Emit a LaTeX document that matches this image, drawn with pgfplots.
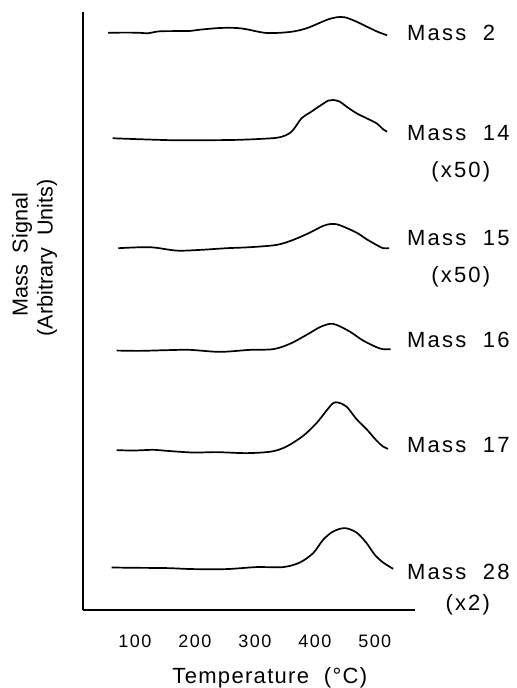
\documentclass[border=0pt]{standalone}
\usepackage{pgfplots}
\pgfplotsset{compat=1.18}
\usepackage{fontspec}
\setmainfont{Liberation Sans}
\newfontfamily\plotfont[LetterSpace=10]{Liberation Sans}
\newfontfamily\tickfont[LetterSpace=8]{Liberation Sans}
\newfontfamily\labfont[LetterSpace=6]{Liberation Sans}
\tikzset{trace/.style={black, solid, line width=0.85pt, smooth, tension=0.5, mark=none}}
\begin{document}
\begin{tikzpicture}
\begin{axis}[
  scale only axis,
  width=166pt, height=299pt,
  xmin=13.3, xmax=566.7, ymin=0, ymax=598,
  axis x line=bottom, axis y line=left,
  axis line style={-, line width=0.9pt},
  xtick={100,200,300,400,500},
  ytick=\empty,
  major tick length=0pt,
  /pgf/number format/assume math mode=true,
  xticklabel style={font=\tickfont\fontsize{9}{10}\selectfont, yshift=-9pt},
  clip=false,
]
\addplot[trace] coordinates {(55.5,577.3)(102.8,577.3)(122.2,576.7)(141.7,578.7)(191.7,579)(208.3,580.3)(241.7,582)(269.5,582)(286.2,580.7)(319.5,577)(358.3,578)(386.2,581.7)(419.5,590)(436.2,592.7)(450,592.7)(469.5,588.3)(502.8,578.7)(520.5,574.7)};
\addplot[trace] coordinates {(62.8,471.7)(108.3,470.7)(163.8,469.7)(208.3,469.7)(263.8,470)(308.3,471)(341.7,472.7)(361.2,478.3)(377.8,491.7)(391.7,497.3)(408.3,504)(422.2,509.3)(430.5,510)(441.7,508.3)(452.8,503.3)(469.5,496.7)(486.2,491.7)(502.8,486.7)(513.8,480.7)(520.5,478.3)};
\addplot[trace] coordinates {(72.2,361.7)(125,362.7)(169.5,359.3)(208.3,360)(252.8,361.7)(291.7,362.7)(336.2,365)(363.8,370)(391.7,377.3)(413.8,384)(427.8,386)(441.7,384.7)(469.5,377.3)(486.2,370.7)(502.8,365)(513.8,361.7)(523.8,361.7)};
\addplot[trace] coordinates {(69.5,259.3)(108.3,259)(152.8,259.7)(191.7,260)(241.7,258)(291.7,260)(330.5,260.7)(358.3,266)(386.2,275)(408.3,282.7)(425,286)(436.2,285)(458.3,278.3)(480.5,269.3)(502.8,262.7)(513.8,260.7)(526.2,260.7)};
\addplot[trace] coordinates {(69.5,159.7)(97.2,159.3)(130.5,160)(152.8,159)(197.2,157.3)(236.2,157.7)(286.2,156.7)(327.8,158.3)(352.8,163.3)(380.5,174)(402.8,186.7)(419.5,199.3)(430.5,206.7)(438.8,207.3)(452.8,203.3)(469.5,190.7)(486.2,180.7)(502.8,169.3)(513.8,163.3)(522.2,161)};
\addplot[trace] coordinates {(61.2,42.3)(97.2,42)(152.8,41.7)(197.2,40.7)(252.8,40.7)(302.8,42.7)(347.2,42.7)(375,47.3)(397.2,56.7)(413.8,70)(430.5,78.3)(450,81.7)(469.5,77.3)(486.2,66.7)(500,55)(513.8,47.3)(530.5,41)};
\begin{scope}[every node/.style={font=\plotfont\fontsize{11}{12}\selectfont, inner sep=0pt}]
\node[anchor=west] at (axis cs:553.3,577) {Mass\ \ 2};
\node[anchor=west] at (axis cs:553.3,477) {Mass\ \ 14};
\node at (axis cs:643.3,438) {(x50)};
\node[anchor=west] at (axis cs:553.3,372) {Mass\ \ 15};
\node at (axis cs:643.3,333) {(x50)};
\node[anchor=west] at (axis cs:553.3,270) {Mass\ \ 16};
\node[anchor=west] at (axis cs:553.3,165) {Mass\ \ 17};
\node[anchor=west] at (axis cs:553.3,38) {Mass\ \ 28};
\node at (axis cs:655,5) {(x2)};
\end{scope}
\node[font=\labfont\fontsize{11}{12}\selectfont, inner sep=0pt] at (axis cs:325,-68) {Temperature\ \ (°C)};
\begin{scope}[every node/.style={font=\fontsize{10.8}{12}\selectfont, inner sep=0pt}]
\node[rotate=90] at (axis cs:-88.3,355) {Mass\ \ Signal};
\node[rotate=90] at (axis cs:-46.7,352) {(Arbitrary\ \ Units)};
\end{scope}
\path (axis cs:-125,610) rectangle (axis cs:736.7,-78);
\end{axis}
\end{tikzpicture}
\end{document}
